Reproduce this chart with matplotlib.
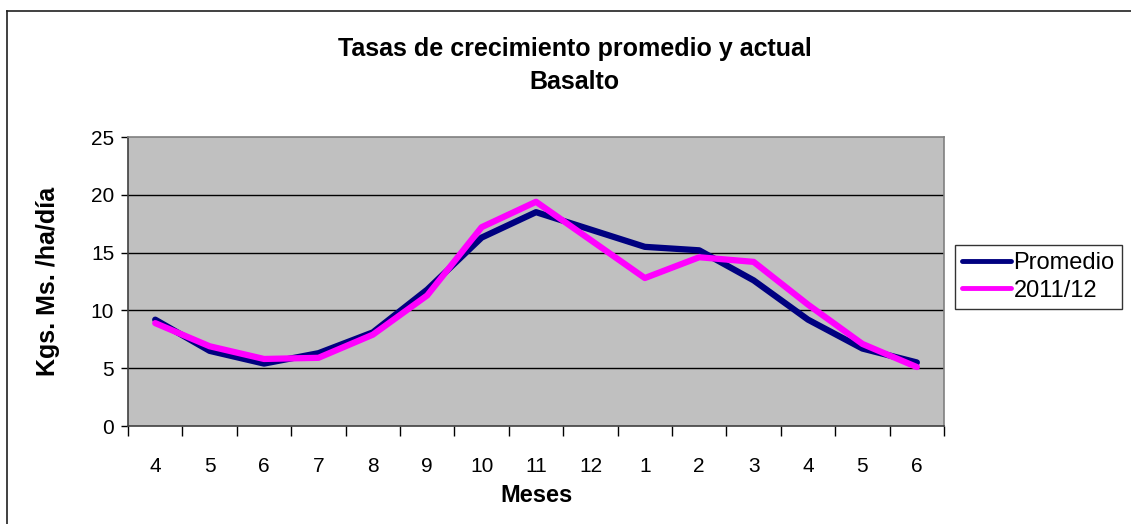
import numpy as np
import matplotlib.pyplot as plt
from matplotlib.lines import Line2D

# DATOS
meses = ['4', '5', '6', '7', '8', '9', '10', '11', '12', '1', '2', '3', '4', '5', '6']
promedio = [9.2, 6.5, 5.4, 6.3, 8.1, 11.8, 16.3, 18.5, 17.0, 15.5, 15.2, 12.6, 9.2, 6.7, 5.5]
actual = [8.9, 6.9, 5.8, 5.9, 7.9, 11.3, 17.2, 19.4, 16.1, 12.8, 14.6, 14.2, 10.5, 7.1, 5.1]

plt.rcParams['font.family'] = ['Liberation Sans', 'DejaVu Sans']

fig = plt.figure(figsize=(11.31, 5.24), dpi=100)

# BORDE DEL GRAFICO (solo arriba e izquierda visibles)
fig.lines.append(Line2D([7 / 1131, 1.0], [1 - 11 / 524, 1 - 11 / 524], transform=fig.transFigure,
                        color='#202020', linewidth=1.2))
fig.lines.append(Line2D([7 / 1131, 7 / 1131], [0.0, 1 - 11 / 524], transform=fig.transFigure,
                        color='#202020', linewidth=1.2))

ax = fig.add_axes([0.1132, 0.187, 0.7215, 0.5515])
ax.set_facecolor('#C0C0C0')

x = np.arange(len(meses))
ax.plot(x, promedio, color='#000080', linewidth=4.5, label='Promedio', solid_capstyle='round')
ax.plot(x, actual, color='#FF00FF', linewidth=4.5, label='2011/12', solid_capstyle='round')

ax.set_xlim(-0.5, len(meses) - 0.5)
ax.set_ylim(0, 25)
ax.set_yticks([0, 5, 10, 15, 20, 25])
ax.set_xticks(x)
ax.set_xticklabels(meses)
ax.set_xticks(np.arange(-0.5, len(meses), 1), minor=True)
ax.tick_params(axis='x', which='major', length=0, labelsize=15, pad=22)
ax.tick_params(axis='x', which='minor', length=7, width=1, color='black')
ax.tick_params(axis='y', length=5, width=1, labelsize=15, pad=5)

for v in [5, 10, 15, 20]:
    ax.axhline(v, color='black', linewidth=1.0, zorder=1)

for s in ['top', 'right']:
    ax.spines[s].set_color('#808080')
    ax.spines[s].set_linewidth(1.2)
for s in ['left', 'bottom']:
    ax.spines[s].set_color('#404040')
    ax.spines[s].set_linewidth(1.2)

ax.set_xlabel('Meses', fontsize=17, fontweight='bold', labelpad=6)
ax.set_ylabel('Kgs. Ms. /ha/día', fontsize=18, fontweight='bold', labelpad=22)

fig.text(0.508, 0.907, 'Tasas de crecimiento promedio y actual', ha='center', va='center',
         fontsize=18, fontweight='bold')
fig.text(0.508, 0.843, 'Basalto', ha='center', va='center', fontsize=18, fontweight='bold')

leg = fig.legend(loc='upper left', bbox_to_anchor=(0.844, 0.533), fontsize=17,
                 frameon=True, fancybox=False, edgecolor='black', handlelength=2.1,
                 handletextpad=0.1, borderpad=0.3, labelspacing=0.25, borderaxespad=0)
leg.get_frame().set_linewidth(1.0)
for h in leg.get_lines():
    h.set_linewidth(3.5)

fig.savefig('out.png', dpi=100)
